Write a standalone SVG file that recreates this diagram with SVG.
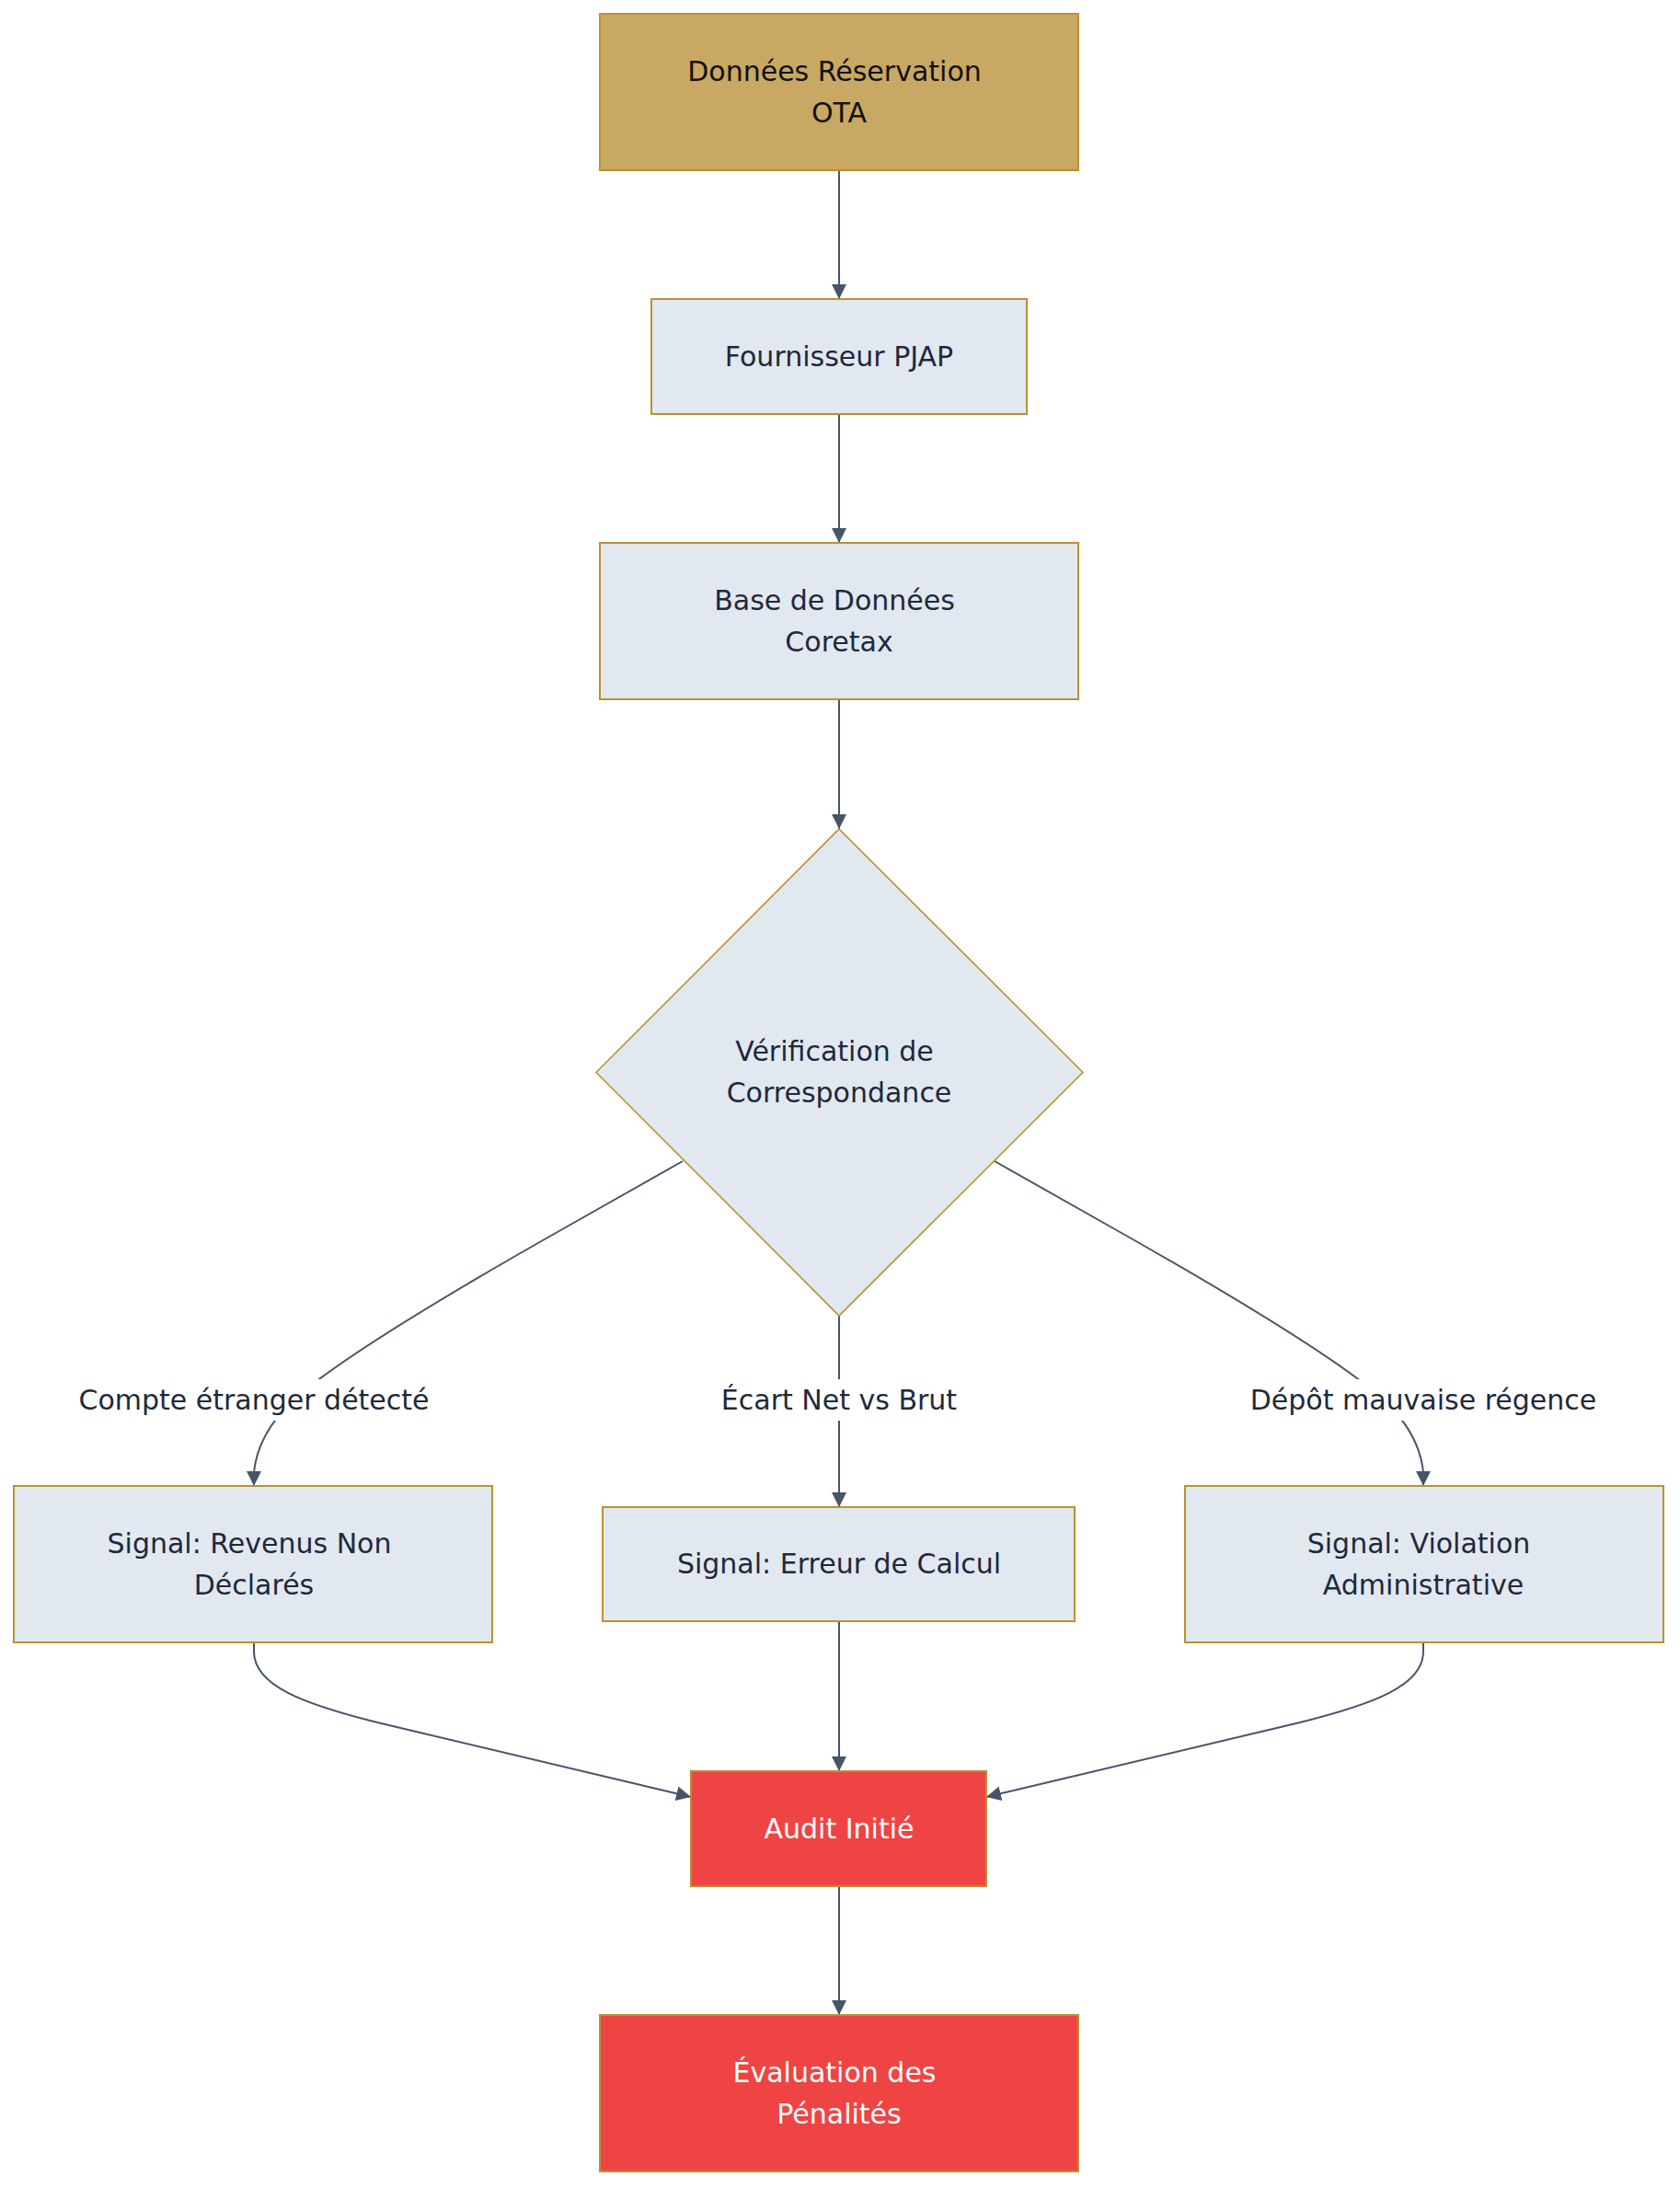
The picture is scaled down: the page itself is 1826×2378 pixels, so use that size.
<svg xmlns="http://www.w3.org/2000/svg" width="1826" height="2378" viewBox="0 0 1826 2378">
<defs>
<marker id="arr" viewBox="0 0 10 10" refX="10" refY="5" markerUnits="userSpaceOnUse" markerWidth="16" markerHeight="16" orient="auto">
<path d="M0,0 L10,5 L0,10 z" fill="#475569"/>
</marker>
<style>
.n rect, .n polygon { stroke: #b8922e; stroke-width: 2; }
.light { fill: #e2e8f0; }
.gold { fill: #c8a862; }
.red { fill: #ef4444; }
text { font-family: "DejaVu Sans", "Liberation Sans", sans-serif; font-size: 30px; text-anchor: middle; }
.dk { fill: #1e293b; }
.bk { fill: #111111; }
.wh { fill: #ffffff; }
.e { fill: none; stroke: #475569; stroke-width: 2; }
.lbg { fill: #ffffff; }
</style>
</defs>
<rect width="1826" height="2378" fill="#ffffff"/>

<g id="connectors">
<path class="e" d="M912,185 L912,325" marker-end="url(#arr)"/>
<path class="e" d="M912,450 L912,590" marker-end="url(#arr)"/>
<path class="e" d="M912,760 L912,901" marker-end="url(#arr)"/>
<path class="e" d="M742,1262 L620,1331 Q400,1455 330,1512 Q281,1552 276,1600 L276,1615" marker-end="url(#arr)"/>
<path class="e" d="M912,1430 L912,1638" marker-end="url(#arr)"/>
<path class="e" d="M1081,1262 L1203,1331 Q1423,1455 1493,1512 Q1542,1552 1547,1600 L1547,1615" marker-end="url(#arr)"/>
<path class="e" d="M276,1785 L276,1795 C276,1832 330,1852 410,1872 L751,1953" marker-end="url(#arr)"/>
<path class="e" d="M912,1762 L912,1925" marker-end="url(#arr)"/>
<path class="e" d="M1547,1785 L1547,1795 C1547,1832 1493,1852 1413,1872 L1072,1953" marker-end="url(#arr)"/>
<path class="e" d="M912,2050 L912,2190" marker-end="url(#arr)"/>
<g id="edge-labels">
<rect class="lbg" x="82" y="1499" width="388" height="45"/>
<text class="dk" x="276" y="1532">Compte étranger détecté</text>
<rect class="lbg" x="780" y="1499" width="264" height="45"/>
<text class="dk" x="912" y="1532">Écart Net vs Brut</text>
<rect class="lbg" x="1356" y="1499" width="382" height="45"/>
<text class="dk" x="1547" y="1532">Dépôt mauvaise régence</text>
</g>
</g>

<g id="n-ota" class="n">
<rect class="gold" x="652" y="15" width="520" height="170"/>
<text class="bk" x="907" y="88">Données Réservation</text>
<text class="bk" x="912" y="133">OTA</text>
</g>
<g id="n-pjap" class="n">
<rect class="light" x="708" y="325" width="408" height="125"/>
<text class="dk" x="912" y="398">Fournisseur PJAP</text>
</g>
<g id="n-coretax" class="n">
<rect class="light" x="652" y="590" width="520" height="170"/>
<text class="dk" x="907" y="663">Base de Données</text>
<text class="dk" x="912" y="708">Coretax</text>
</g>
<g id="n-verif" class="n">
<polygon class="light" points="912,901 1177,1165.5 912,1430 648,1165.5" style="stroke-width:1.6"/>
<text class="dk" x="907" y="1153">Vérification de</text>
<text class="dk" x="912" y="1198">Correspondance</text>
</g>
<g id="n-revenus" class="n">
<rect class="light" x="15" y="1615" width="520" height="170"/>
<text class="dk" x="271" y="1688">Signal: Revenus Non</text>
<text class="dk" x="276" y="1733">Déclarés</text>
</g>
<g id="n-calcul" class="n">
<rect class="light" x="655" y="1638" width="513" height="124"/>
<text class="dk" x="912" y="1710">Signal: Erreur de Calcul</text>
</g>
<g id="n-violation" class="n">
<rect class="light" x="1288" y="1615" width="520" height="170"/>
<text class="dk" x="1542" y="1688">Signal: Violation</text>
<text class="dk" x="1547" y="1733">Administrative</text>
</g>
<g id="n-audit" class="n">
<rect class="red" x="751" y="1925" width="321" height="125"/>
<text class="wh" x="912" y="1998">Audit Initié</text>
</g>
<g id="n-penalites" class="n">
<rect class="red" x="652" y="2190" width="520" height="170"/>
<text class="wh" x="907" y="2263">Évaluation des</text>
<text class="wh" x="912" y="2308">Pénalités</text>
</g>
</svg>
